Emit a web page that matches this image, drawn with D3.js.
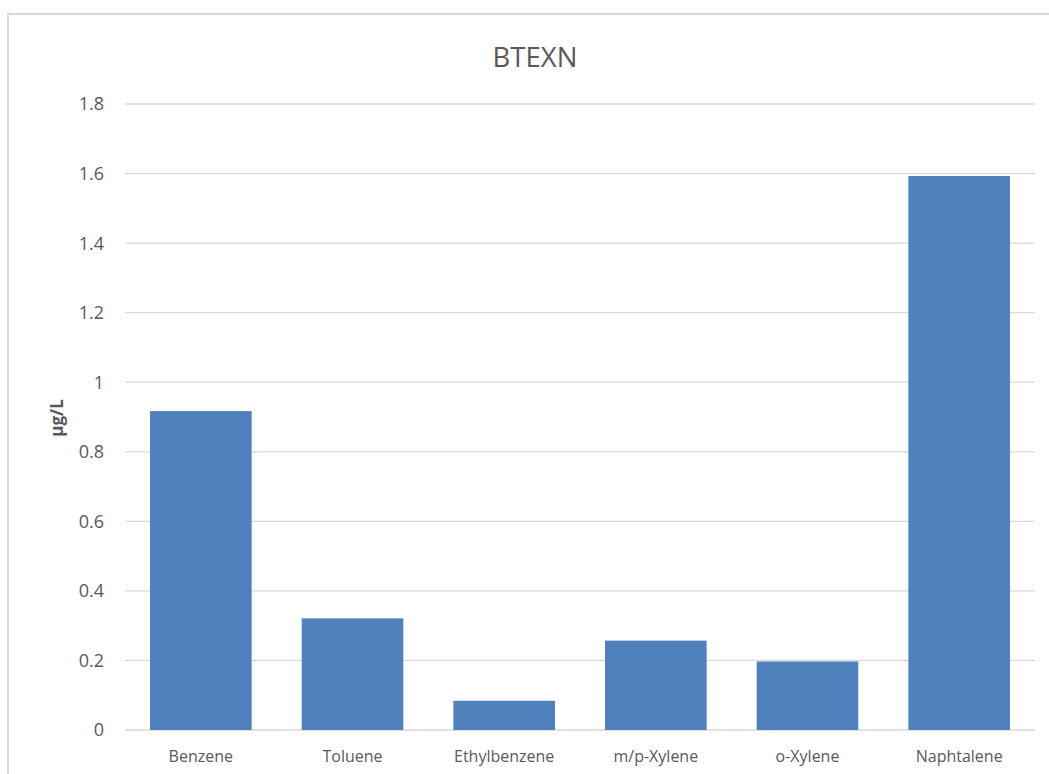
<!DOCTYPE html>
<html>
<head>
<meta charset="utf-8">
<script src="https://cdn.jsdelivr.net/npm/d3@7"></script>
<style>
  body { margin: 0; background: #fff; }
  svg { display: block; }
</style>
</head>
<body>
<div id="chart"></div>
<script>
const categories = ["Benzene", "Toluene", "Ethylbenzene", "m/p-Xylene", "o-Xylene", "Naphtalene"];
const values = [0.917, 0.321, 0.084, 0.257, 0.197, 1.593];
const yTicks = [0, 0.2, 0.4, 0.6, 0.8, 1, 1.2, 1.4, 1.6, 1.8];

const width = 1049, height = 774;
const margin = { top: 104, right: 14, bottom: 44, left: 125 };

const svg = d3.select("#chart").append("svg")
  .attr("width", width)
  .attr("height", height)
  .style("font-family", "'Open Sans', sans-serif");

// outer frame (right/bottom edges fall off the image)
svg.append("rect")
  .attr("x", 8).attr("y", 14)
  .attr("width", width + 10).attr("height", height + 10)
  .attr("fill", "none")
  .attr("stroke", "#d9d9d9")
  .attr("stroke-width", 2);

const x = d3.scaleBand()
  .domain(categories)
  .range([margin.left, width - margin.right])
  .paddingInner(0.33)
  .paddingOuter(0.165);

const y = d3.scaleLinear()
  .domain([0, 1.8])
  .range([height - margin.bottom, margin.top]);

// gridlines
svg.append("g")
  .selectAll("line")
  .data(yTicks)
  .join("line")
  .attr("x1", margin.left)
  .attr("x2", width - margin.right)
  .attr("y1", d => y(d))
  .attr("y2", d => y(d))
  .attr("stroke", "#d9d9d9")
  .attr("stroke-width", 1.3);

// y tick labels
svg.append("g")
  .selectAll("text")
  .data(yTicks)
  .join("text")
  .attr("x", margin.left - 21)
  .attr("y", d => y(d))
  .attr("dy", "0.36em")
  .attr("text-anchor", "end")
  .attr("font-size", 18)
  .attr("fill", "#595959")
  .text(d => d3.format("")(d));

// bars
svg.append("g")
  .selectAll("rect")
  .data(values)
  .join("rect")
  .attr("x", (d, i) => x(categories[i]))
  .attr("y", d => y(d))
  .attr("width", x.bandwidth())
  .attr("height", d => y(0) - y(d))
  .attr("fill", "#4f81bd");

// x labels
svg.append("g")
  .selectAll("text")
  .data(categories)
  .join("text")
  .attr("x", d => x(d) + x.bandwidth() / 2)
  .attr("y", height - margin.bottom + 26)
  .attr("dy", "0.36em")
  .attr("text-anchor", "middle")
  .attr("font-size", 16)
  .attr("fill", "#595959")
  .text(d => d);

// axis title
svg.append("text")
  .attr("transform", `translate(57,418) rotate(-90)`)
  .attr("text-anchor", "middle")
  .attr("dy", "0.36em")
  .attr("font-size", 17)
  .attr("font-weight", "bold")
  .attr("fill", "#595959")
  .text("μg/L");

// chart title
svg.append("text")
  .attr("x", 535)
  .attr("y", 57)
  .attr("dy", "0.36em")
  .attr("text-anchor", "middle")
  .attr("font-size", 27.5)
  .attr("fill", "#595959")
  .text("BTEXN");
</script>
</body>
</html>
